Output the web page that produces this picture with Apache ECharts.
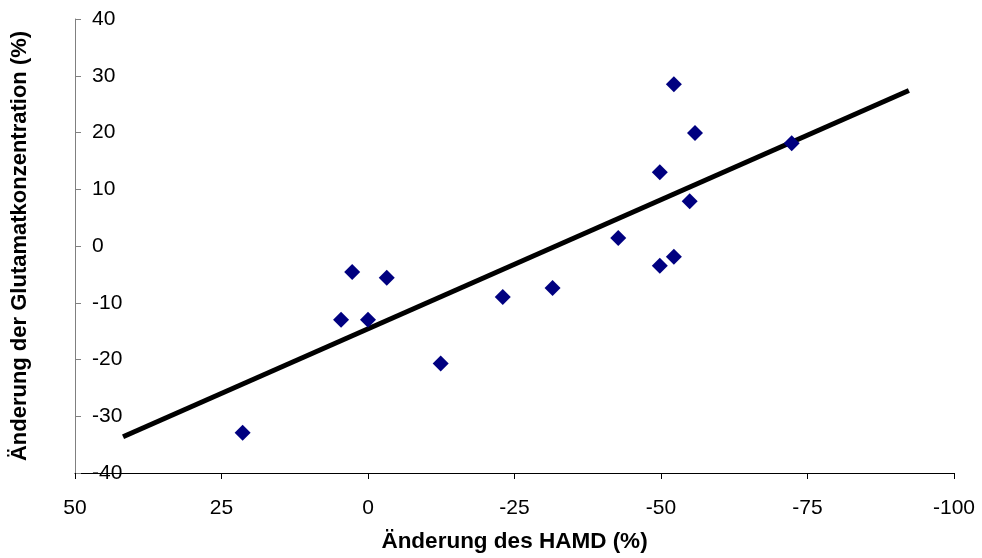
<!DOCTYPE html>
<html>
<head>
<meta charset="utf-8">
<script src="https://cdn.jsdelivr.net/npm/echarts@6/dist/echarts.min.js"></script>
<style>
  html, body { margin: 0; padding: 0; background: #fff; }
  #chart-container { width: 982px; height: 558px; }
</style>
</head>
<body>
<div id="chart-container"></div>
<script>
// Änderung des HAMD (%) vs. Änderung der Glutamatkonzentration (%)
var hamdChange = [21.4, 4.6, 2.7, 0, -3.2, -12.4, -23, -31.5, -42.7, -49.8, -49.8, -52.2, -52.2, -55.8, -54.9, -72.3];
var glutamateChange = [-32.9, -13, -4.6, -13, -5.6, -20.7, -9, -7.4, 1.4, 13, -3.5, 28.5, -1.9, 19.9, 7.9, 18.1];

// regression line end points
var trendX = [41.8, -92.3];
var trendY = [-33.6, 27.4];

var xTicks = [50, 25, 0, -25, -50, -75, -100];
var yTicks = [-40, -30, -20, -10, 0, 10, 20, 30, 40];

var scatterData = [];
for (var i = 0; i < hamdChange.length; i++) {
    scatterData.push([hamdChange[i], glutamateChange[i]]);
}
var trendData = [];
for (var j = 0; j < trendX.length; j++) {
    trendData.push([trendX[j], trendY[j]]);
}

var myChart = echarts.init(document.getElementById('chart-container'));

var option = {
    backgroundColor: '#fff',
    animation: false,
    textStyle: { fontFamily: 'Liberation Sans, Arial, sans-serif' },
    grid: { left: 75, right: 28, top: 19, bottom: 85 },
    xAxis: {
        type: 'value',
        inverse: true,
        min: xTicks[xTicks.length - 1],
        max: xTicks[0],
        interval: 25,
        name: 'Änderung des HAMD (%)',
        nameLocation: 'middle',
        nameGap: 57,
        nameTextStyle: { fontSize: 22.5, fontWeight: 'bold', color: '#000' },
        axisLine: { onZero: false, lineStyle: { color: '#000', width: 1 } },
        axisTick: { length: 6, lineStyle: { color: '#000' } },
        axisLabel: { fontSize: 21, color: '#000', margin: 25 },
        splitLine: { show: false }
    },
    yAxis: {
        type: 'value',
        min: yTicks[0],
        max: yTicks[yTicks.length - 1],
        interval: 10,
        name: 'Änderung der Glutamatkonzentration (%)',
        nameLocation: 'middle',
        nameRotate: 90,
        nameGap: 44,
        nameTextStyle: { fontSize: 22, fontWeight: 'bold', color: '#000' },
        axisLine: { show: true, onZero: false, lineStyle: { color: '#808080', width: 1 } },
        axisTick: { show: true, inside: true, length: 6, lineStyle: { color: '#808080' } },
        axisLabel: { inside: true, fontSize: 21, color: '#000', margin: 17, align: 'left' },
        splitLine: { show: false }
    },
    series: [
        {
            name: 'Trend',
            type: 'line',
            data: trendData,
            symbol: 'none',
            lineStyle: { color: '#000', width: 5 },
            z: 2
        },
        {
            name: 'Patienten',
            type: 'scatter',
            data: scatterData,
            symbol: 'diamond',
            symbolSize: 16,
            itemStyle: { color: '#000080', opacity: 1 },
            z: 3
        }
    ]
};
myChart.setOption(option);
</script>
</body>
</html>
